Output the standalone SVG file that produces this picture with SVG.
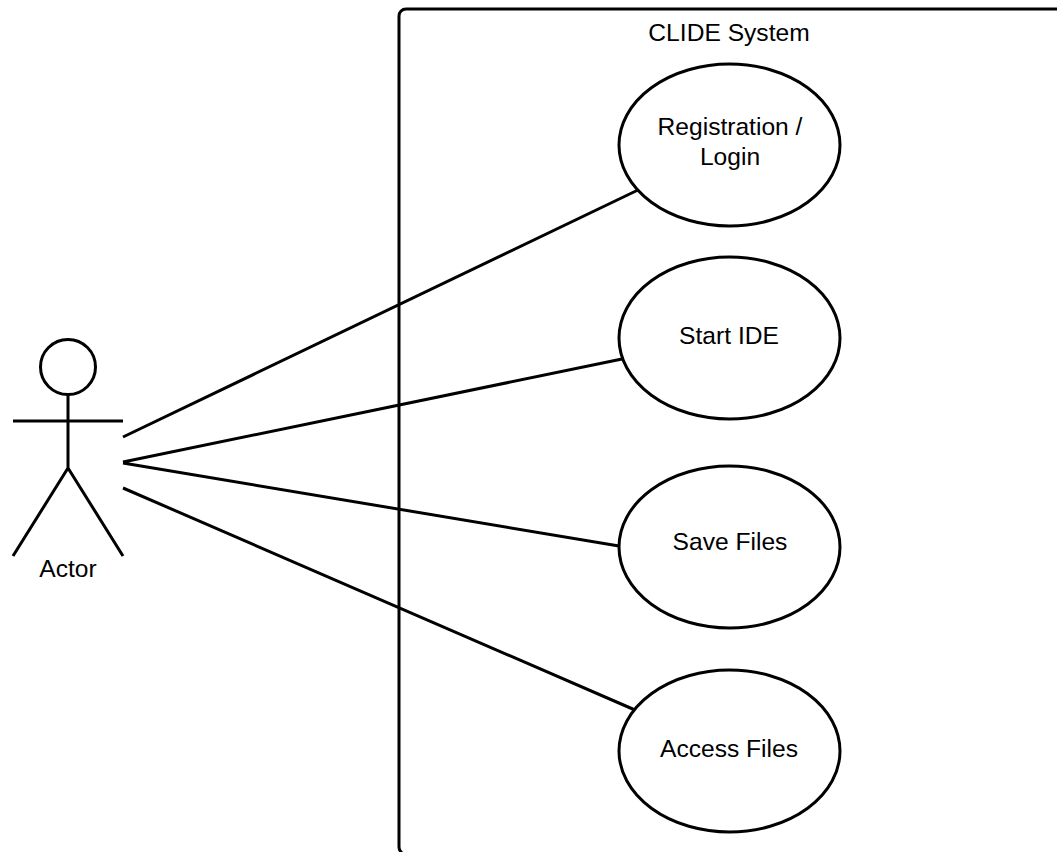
<svg xmlns="http://www.w3.org/2000/svg" width="1057" height="852" viewBox="0 0 1057 852">
<style>
.s{fill:none;stroke:#000;stroke-width:3}
.e{fill:#fff;stroke:#000;stroke-width:3}
text{font-family:"Liberation Sans",Arial,sans-serif;font-size:24.600px;fill:#000;text-anchor:middle}
</style>
<rect width="1057" height="852" fill="#fff"/>
<g id="system"><rect class="s" x="399" y="9" width="670" height="845" rx="7"/><text x="729" y="41">CLIDE System</text></g>
<g id="connectors">
<path class="s" d="M123 437L638 190M123 462L622 359M123 463L619 546M123 488L635 710"/>
</g>
<g id="actor">
<circle class="e" cx="68" cy="367" r="27.500"/>
<path class="s" d="M68 394V468M13 421H123M68 468L13 556M68 468L123 556"/>
<text x="68" y="577">Actor</text>
</g>
<g id="registration"><ellipse class="e" cx="729.500" cy="145" rx="110.500" ry="81"/><text x="730" y="135">Registration /</text><text x="730" y="165">Login</text></g>
<g id="start"><ellipse class="e" cx="729.500" cy="338" rx="110.500" ry="81"/><text x="729" y="344">Start IDE</text></g>
<g id="save"><ellipse class="e" cx="729.500" cy="547" rx="110.500" ry="81"/><text x="730" y="550">Save Files</text></g>
<g id="access"><ellipse class="e" cx="729.500" cy="751" rx="110.500" ry="81"/><text x="729" y="757">Access Files</text></g>
</svg>
